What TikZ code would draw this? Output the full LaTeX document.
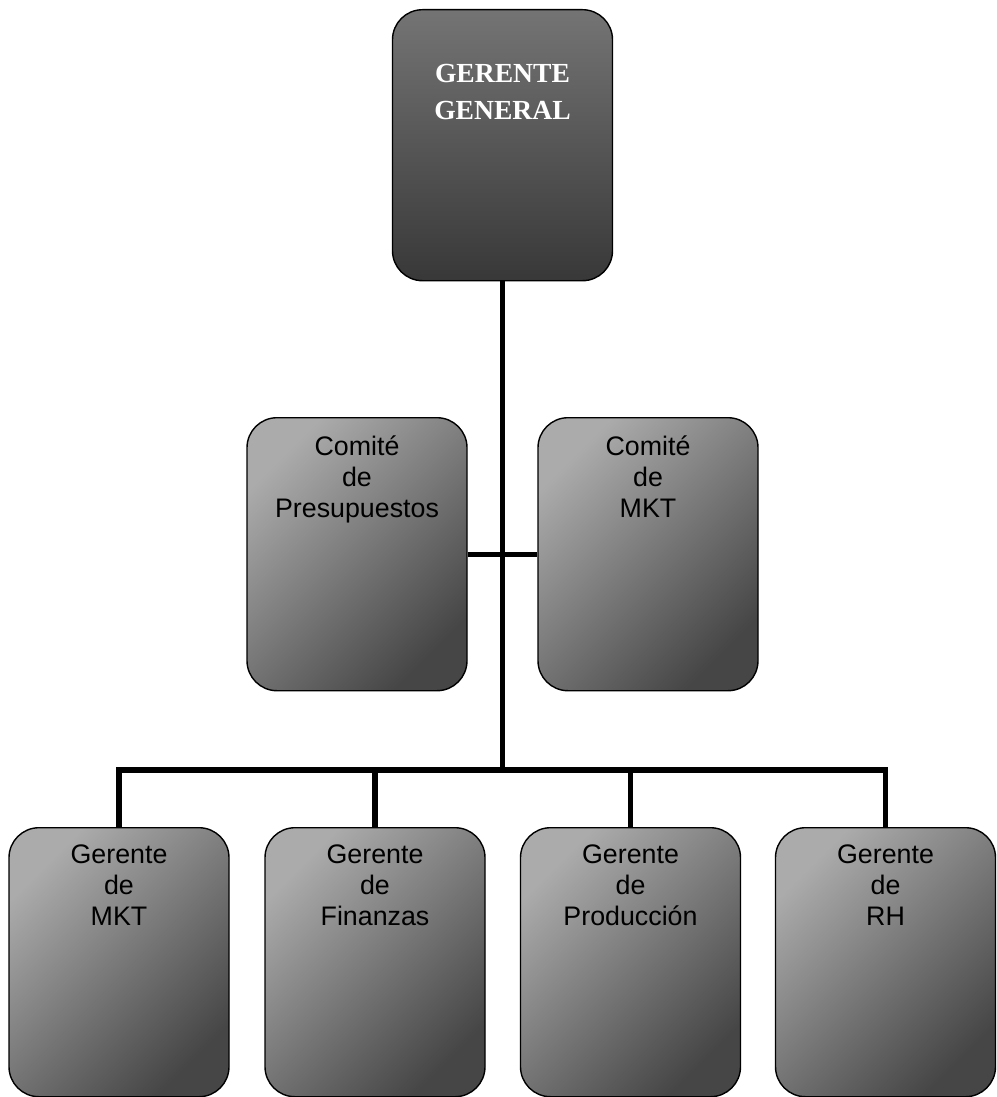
\documentclass[tikz,border=0pt]{standalone}
\usepackage{fontspec}
\setmainfont{Liberation Sans}
\newfontfamily\titlefont{Liberation Serif}
\usetikzlibrary{backgrounds}
\definecolor{boxlight}{HTML}{ABABAB}
\definecolor{boxdark}{HTML}{464646}
\definecolor{headlight}{HTML}{747474}
\definecolor{headdark}{HTML}{383838}
\begin{document}
\begin{tikzpicture}[x=1pt,y=-1pt,
  orgbox/.style={draw=black, line width=1.4pt, rounded corners=30pt,
    inner sep=0pt, text width=220pt, align=center,
    shading=axis, top color=boxlight, bottom color=boxdark, shading angle=45,
    font=\fontsize{26.8pt}{31pt}\selectfont},
  headbox/.style={orgbox, top color=headlight, bottom color=headdark,
    text=white, font=\titlefont\bfseries\fontsize{27.6pt}{37pt}\selectfont},
  wire/.style={line width=5.5pt, line cap=rect}]
\useasboundingbox (0,0) rectangle (996,1097);

% general manager
\node[headbox, text height=73pt, text depth=198pt, anchor=north] (gg) at (502.5,9) {GERENTE\\GENERAL};

% committees
\node[orgbox, text height=38pt, text depth=235pt, anchor=north] (cp) at (357,417) {Comité\\de\\Presupuestos};
\node[orgbox, text height=38pt, text depth=235pt, anchor=north] (cm) at (648,417) {Comité\\de\\MKT};

% managers
\node[orgbox, text height=36pt, text depth=233pt, anchor=north] (g1) at (119,827) {Gerente\\de\\MKT};
\node[orgbox, text height=36pt, text depth=233pt, anchor=north] (g2) at (375,827) {Gerente\\de\\Finanzas};
\node[orgbox, text height=36pt, text depth=233pt, anchor=north] (g3) at (630.5,827) {Gerente\\de\\Producción};
\node[orgbox, text height=36pt, text depth=233pt, anchor=north] (g4) at (885.5,827) {Gerente\\de\\RH};

\coordinate (bus) at (502.5,770);

\begin{scope}[on background layer]
  \draw[wire, line cap=butt] (gg.south) -- (bus);
  \draw[wire, line width=5pt, line cap=butt] (cp.east) -- (cm.west);
  \draw[wire] (g1.north |- bus) -- (g4.north |- bus);
  \foreach \n in {g1,g2,g3,g4}
    \draw[wire, line cap=butt] (\n.north |- bus) -- (\n.north);
\end{scope}
\end{tikzpicture}
\end{document}
